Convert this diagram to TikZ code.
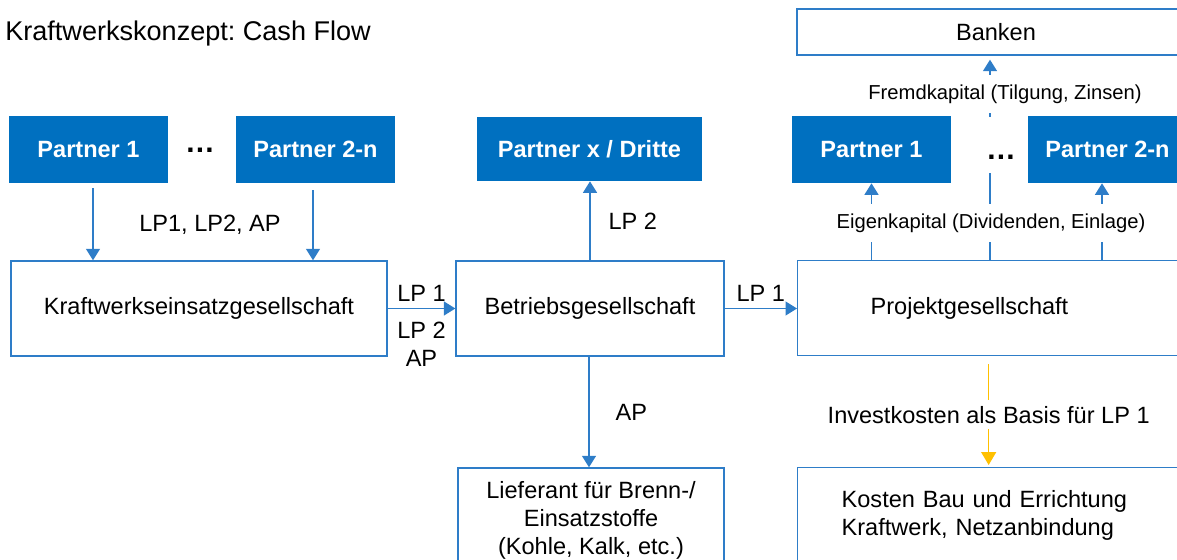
\documentclass[tikz,border=0pt]{standalone}
\usepackage{fontspec}
\setmainfont{Liberation Sans}
\usetikzlibrary{arrows.meta}
\frenchspacing
\definecolor{kwblue}{RGB}{0,112,192}
\definecolor{kwline}{RGB}{46,125,200}
\definecolor{kwyellow}{RGB}{255,192,0}
\newcommand{\bodysize}{\fontsize{13.4}{16}\selectfont}
\newcommand{\smallsize}{\fontsize{11.5}{14}\selectfont}
\newcommand{\titlesize}{\fontsize{15.4}{18}\selectfont}
\begin{document}
\begin{tikzpicture}[x=0.02cm, y=-0.02cm,
    partner/.style={fill=kwblue, text=white, font=\bodysize\bfseries,
      minimum width=3.18cm, minimum height=1.34cm},
    firm/.style={draw=kwline, line width=0.8pt, font=\bodysize, minimum height=1.9cm},
    flow/.style={draw=kwline, line width=0.8pt, -{Triangle[width=0.28cm,length=0.23cm]}},
    invest/.style={draw=kwyellow, line width=0.8pt, -{Triangle[width=0.3cm,length=0.26cm]}},
    lbl/.style={font=\bodysize},
    smalllbl/.style={font=\smallsize, fill=white, inner ysep=0.2cm},
    dots/.style={font=\fontsize{17}{20}\selectfont\bfseries, fill=white, text height=0.6cm,
      text depth=0cm, inner ysep=0.26cm}]
    \useasboundingbox (0,0) rectangle (1177,560);
    \clip (0,0) rectangle (1177,560);
    \node[anchor=base west, inner sep=0pt, font=\titlesize] (title) at (5,41) {Kraftwerkskonzept: Cash Flow};
    % partners
    \node[partner] (p1L) at (88.5,149.5) {Partner 1};
    \node[partner] (p2L) at (315.5,149.5) {Partner 2-n};
    \node[partner, minimum width=4.5cm, minimum height=1.28cm] (px) at (589.5,149) {Partner x / Dritte};
    \node[partner] (p1R) at (871.5,149.5) {Partner 1};
    \node[partner] (p2R) at (1107.5,149.5) {Partner 2-n};
    % companies
    \node[firm, minimum width=7.96cm, minimum height=0.92cm] (banken) at (996,32) {Banken};
    \node[firm, minimum width=7.52cm] (keg) at (199,308.5) {Kraftwerkseinsatzgesellschaft};
    \node[firm, minimum width=5.36cm] (bg) at (590,308.5) {Betriebsgesellschaft};
    \node[firm, anchor=west, text width=4.9cm, inner xsep=1.46cm, align=left] (proj) at (797,308) {Projektgesellschaft};
    \node[firm, minimum width=5.32cm, minimum height=2.1cm, align=center] (lief) at (591,520.5) {Lieferant für Brenn-/\\Einsatzstoffe\\(Kohle, Kalk, etc.)};
    \node[firm, anchor=north west, text width=6cm, inner xsep=0.88cm, align=left] (kosten) at (797,467) {Kosten Bau und Errichtung\\Kraftwerk, Netzanbindung};
    % cash flows
    \draw[flow] ([xshift=0.09cm, yshift=-0.1cm]p1L.south) -- ([xshift=0.09cm]p1L.south |- keg.north);
    \draw[flow] ([xshift=-0.05cm, yshift=-0.14cm]p2L.south) -- ([xshift=-0.05cm]p2L.south |- keg.north);
    \node[lbl] (lpall) at (210,225) {LP1, LP2, AP};
    \draw[flow] (keg.east) -- (bg.west)
        node[midway, above, lbl] (lp1a) {LP 1}
        node[midway, below=0.14cm, lbl, align=center] (lp2a) {LP 2\\AP};
    \draw[flow] (bg.north) -- (bg.north |- px.south)
        node[midway, right=0.24cm, lbl] (lp2b) {LP 2};
    \draw[flow] (bg.east) -- (bg.east -| proj.west)
        node[midway, above, lbl] (lp1b) {LP 1};
    \draw[flow] ([xshift=-0.02cm]bg.south) -- ([xshift=-0.02cm]bg.south |- lief.north)
        node[midway, right=0.4cm, lbl] (apb) {AP};
    \draw[flow] (p1R.south |- proj.north) -- (p1R.south);
    \draw[flow] ([xshift=-0.11cm]p2R.south |- proj.north) -- ([xshift=-0.11cm]p2R.south);
    \draw[flow] ([xshift=-0.12cm]banken.south |- proj.north) -- ([xshift=-0.12cm, yshift=-0.08cm]banken.south);
    \node[smalllbl] (ek) at (991,223) {Eigenkapital (Dividenden, Einlage)};
    \node[smalllbl] (fk) at (1005,94) {Fremdkapital (Tilgung, Zinsen)};
    \node[dots, anchor=base] (dotsL) at (200,153) {…};
    \node[dots, anchor=base] (dotsR) at (1001,160) {…};
    \draw[invest] ([xshift=-0.09cm, yshift=-0.16cm]proj.south) -- ([xshift=-0.09cm, yshift=0.04cm]proj.south |- kosten.north)
        node[midway, fill=white, lbl] (inv) {Investkosten als Basis für LP 1};
\end{tikzpicture}
\end{document}
